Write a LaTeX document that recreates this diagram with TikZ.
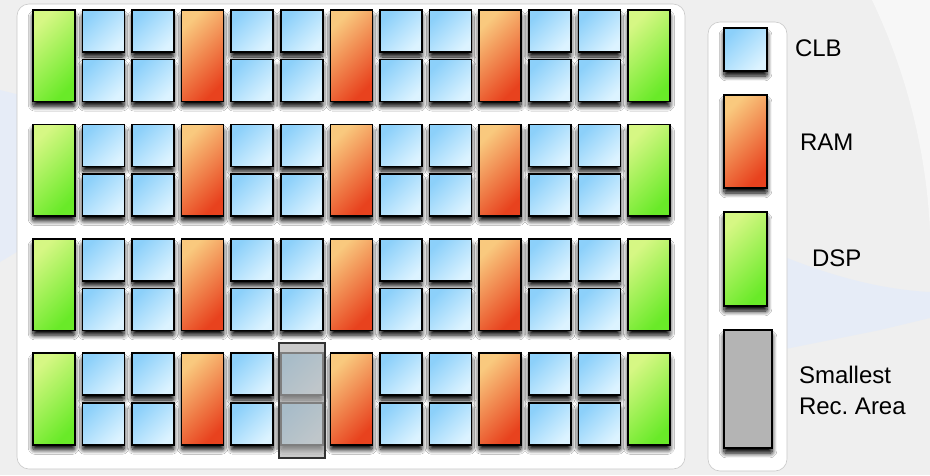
\documentclass[tikz,border=0pt]{standalone}
\usepackage{fontspec}
\setmainfont{Liberation Sans}
\usetikzlibrary{shadows.blur}
\definecolor{fpClbA}{HTML}{8CD0FA}
\definecolor{fpClbB}{HTML}{DCF3FF}
\definecolor{fpRamA}{HTML}{F9C97E}
\definecolor{fpRamB}{HTML}{E8421E}
\definecolor{fpDspA}{HTML}{D6F784}
\definecolor{fpDspB}{HTML}{69EA28}
\definecolor{fpRec}{HTML}{B4B4B4}
\definecolor{fpBack}{HTML}{EFEFEF}
\definecolor{fpGlare}{HTML}{F7F7F7}
\definecolor{fpTint}{HTML}{E6ECF7}
\definecolor{fpHalo}{HTML}{C9C9C9}
\newcommand{\FPType}{\fontsize{24}{31}\selectfont}
\tikzset{fp/base/.style={x=1pt,y=-1pt,line join=miter,
  every node/.style={inner sep=0pt,outer sep=0pt}},
  fp/block/.style={draw=black,line width=1.6pt,
    blur shadow={shadow xshift=0pt,shadow yshift=-5pt,shadow blur radius=4.5pt,
      shadow blur steps=10,shadow opacity=100,shadow blur extra rounding=2pt}},
  fp/clb/.style={fp/block,top color=fpClbA,bottom color=fpClbB,shading angle=45,
    minimum width=42pt,minimum height=42pt},
  fp/ram/.style={fp/block,top color=fpRamA,bottom color=fpRamB,shading angle=45,
    minimum width=42pt,minimum height=91.5pt},
  fp/dsp/.style={fp/block,top color=fpDspA,bottom color=fpDspB,shading angle=45,
    minimum width=42pt,minimum height=91.5pt},
  fp/rec/.style={draw=black!80,line width=1.6pt,fill=fpRec,fill opacity=.7,
    text opacity=1,minimum width=46.5pt,minimum height=115.5pt},
  fp/halo/.style={draw=fpHalo,line width=.6pt,fill=white,rounded corners=12pt},
  fp/label/.style={anchor=west,font=\FPType,align=left}}

\begin{document}
\begin{tikzpicture}[fp/base]
  \useasboundingbox (0,0) rectangle (930,475);
  \fill[fpBack] (0,0) rectangle (930,475);
  % faint watermark swooshes behind the layout
  \fill[fpGlare] (872,0) .. controls (915,90) and (935,190) .. (930,290) -- (930,0) -- cycle;
  \fill[fpTint] (780,255) .. controls (840,280) and (890,290) .. (930,292)
    -- (930,318) -- (880,330) -- (780,350) -- cycle;
  \fill[fpTint] (0,90) -- (20,95) -- (20,250) -- (0,262) -- cycle;
  \draw[fp/halo] (17,4) rectangle (685,469);
  \draw[fp/halo] (708,22) rectangle (787,471);
  % four rows of columns: DSP | CLB CLB | RAM | ... | DSP
  \foreach \r in {0,...,3}{%
    \foreach \c in {0,12}{%
      \node[fp/dsp] (dsp-\r-\c) at ({53.75+49.6*\c},{55.8+114.4*\r}) {};}
    \foreach \c in {3,6,9}{%
      \node[fp/ram] (ram-\r-\c) at ({53.75+49.6*\c},{55.8+114.4*\r}) {};}
    \foreach \c in {1,2,4,5,7,8,10,11}{%
      \node[fp/clb] (clb-\r-\c-t) at ({53.75+49.6*\c},{31+114.4*\r}) {};
      \node[fp/clb] (clb-\r-\c-b) at ({53.75+49.6*\c},{80.5+114.4*\r}) {};}
  }
  \node[fp/rec] (recarea) at (302,400.5) {};
  % legend
  \node[fp/clb,minimum width=43.5pt,minimum height=43.5pt] (keyclb) at (745.5,49.5) {};
  \node[fp/ram,minimum width=43.5pt,minimum height=93.5pt] (keyram) at (745.5,141.5) {};
  \node[fp/dsp,minimum width=43.5pt,minimum height=94.5pt] (keydsp) at (745.5,259) {};
  \node[fp/block,fill=fpRec,minimum width=48.5pt,minimum height=118.5pt] (keyrec) at (748,389) {};
  \node[fp/label] (lblclb) at (795,48) {CLB};
  \node[fp/label] (lblram) at (800,142) {RAM};
  \node[fp/label] (lbldsp) at (812,258) {DSP};
  \node[fp/label] (lblrec) at (799,390) {Smallest\\Rec.\ Area};
\end{tikzpicture}
\end{document}
